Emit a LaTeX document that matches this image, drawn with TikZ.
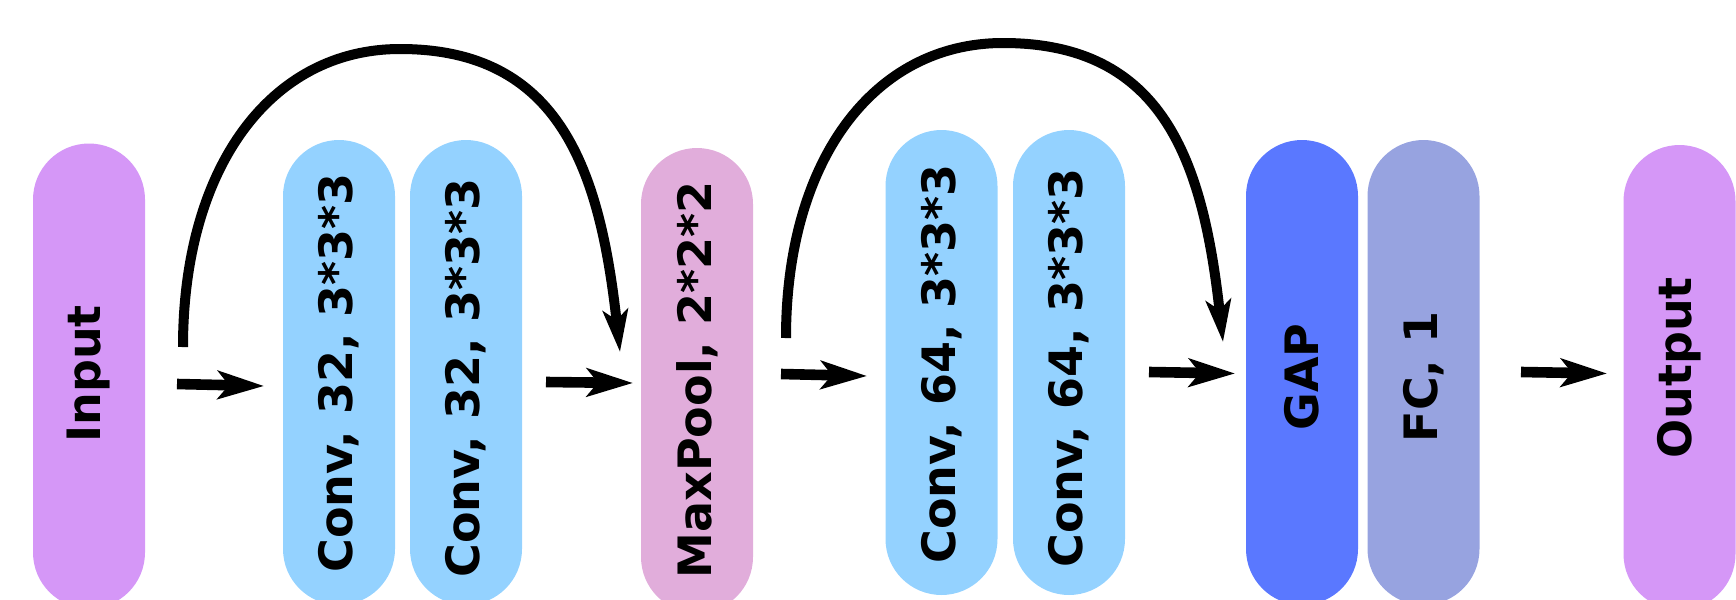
\documentclass[tikz,border=0pt]{standalone}
\usepackage{fontspec}
\setmainfont{DejaVu Sans}
\usetikzlibrary{arrows.meta}
\definecolor{pviolet}{HTML}{D597F7}
\definecolor{pblue}{HTML}{94D2FF}
\definecolor{ppink}{HTML}{E1ADDB}
\definecolor{pgap}{HTML}{5A78FF}
\definecolor{pfc}{HTML}{97A3E0}
\begin{document}
\begin{tikzpicture}[x=0.5pt,y=-0.5pt,
  pill/.style={rectangle, minimum width=56pt, minimum height=232.5pt, rounded corners=28pt, inner sep=0pt, draw=none},
  lbl/.style={rotate=90, font=\fontsize{23}{27}\selectfont\bfseries, inner sep=0pt},
  flow/.style={line width=5.3pt, -{Stealth[length=23pt,width=14pt,inset=5.5pt]}},
  skiparc/.style={line width=5pt, -{Stealth[length=21pt,width=12.5pt,inset=5pt]}}]
\useasboundingbox (0,0) rectangle (1736,600);
\clip (0,0) rectangle (1736,600);
% pills
\node[pill, fill=pviolet] (pin) at (89,376) {};
\node[pill, fill=pblue] (pc1) at (339,372.5) {};
\node[pill, fill=pblue] (pc2) at (466,372.5) {};
\node[pill, fill=ppink] (pmp) at (697,380.5) {};
\node[pill, fill=pblue] (pc3) at (941.5,362.5) {};
\node[pill, fill=pblue] (pc4) at (1069,362.5) {};
\node[pill, fill=pgap] (pgp) at (1302,372.5) {};
\node[pill, fill=pfc] (pfcn) at (1423.5,372.5) {};
\node[pill, fill=pviolet] (pout) at (1679.5,377.5) {};
% labels
\node[lbl] (tin) at (89,374) {Input};
\node[lbl] (tc1) at (339,373) {Conv, 32, 3*3*3};
\node[lbl] (tc2) at (466,378) {Conv, 32, 3*3*3};
\node[lbl] (tmp) at (697,380) {MaxPool, 2*2*2};
\node[lbl] (tc3) at (941.5,364) {Conv, 64, 3*3*3};
\node[lbl] (tc4) at (1069,368) {Conv, 64, 3*3*3};
\node[lbl] (tgp) at (1302,377) {GAP};
\node[lbl] (tfc) at (1423.5,377) {FC, 1};
\node[lbl] (tout) at (1679.5,368) {Output};
% arrow end points
\coordinate (a1s) at (177,384);
\coordinate (a1e) at (264,386);
\coordinate (a2s) at (546,382);
\coordinate (a2e) at (633,383);
\coordinate (a3s) at (781,374);
\coordinate (a3e) at (867,376);
\coordinate (a4s) at (1149,372);
\coordinate (a4e) at (1235,373.5);
\coordinate (a5s) at (1521,372);
\coordinate (a5e) at (1607,373.5);
\draw[flow] (a1s) -- (a1e);
\draw[flow] (a2s) -- (a2e);
\draw[flow] (a3s) -- (a3e);
\draw[flow] (a4s) -- (a4e);
\draw[flow] (a5s) -- (a5e);
% skip arcs
\coordinate (s1) at (183,347);
\coordinate (k1) at (400,49);
\coordinate (e1) at (620,352);
\coordinate (s2) at (786,338);
\coordinate (k2) at (1003,43);
\coordinate (e2) at (1223,342);
\draw[skiparc] (s1) .. controls (183,168) and (270,49) .. (k1) .. controls (560,49) and (600,170) .. (e1);
\draw[skiparc] (s2) .. controls (786,161) and (873,43) .. (k2) .. controls (1163,43) and (1203,160) .. (e2);
\end{tikzpicture}
\end{document}
